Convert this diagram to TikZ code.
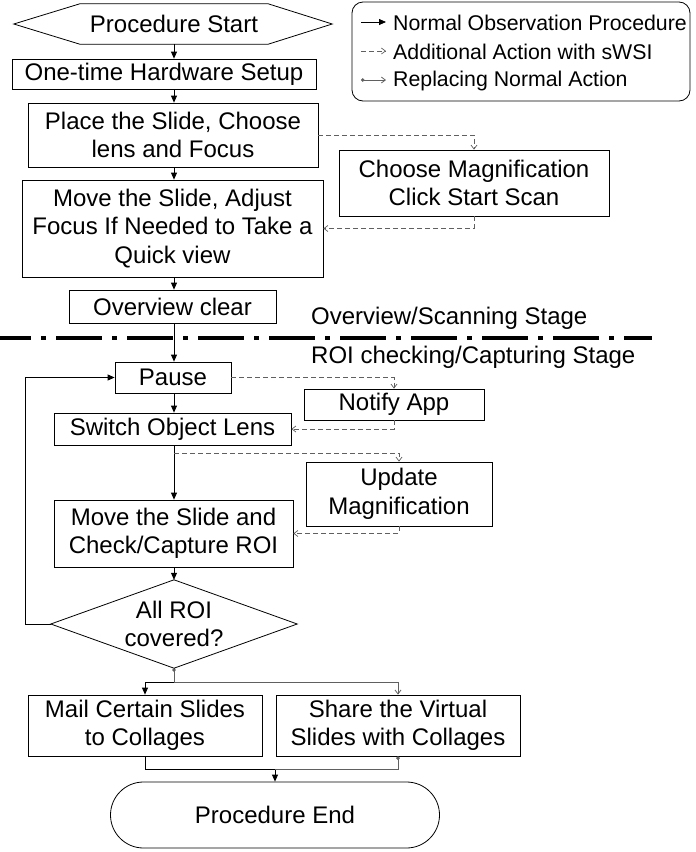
\documentclass[tikz,border=0pt]{standalone}
\usepackage{fontspec}
\setmainfont{Liberation Sans}
\usetikzlibrary{arrows.meta}
\definecolor{dgray}{HTML}{606060}
\begin{document}
\begin{tikzpicture}[x=1pt,y=-1pt,
  txt/.style={inner sep=0pt, align=center, font=\fontsize{24}{28.5}\selectfont},
  box/.style={txt, draw, line width=0.8pt},
  legtxt/.style={inner sep=0pt, anchor=west, font=\fontsize{21.3}{24}\selectfont},
  main/.style={line width=0.8pt, -{Triangle[length=7pt,width=6pt]}},
  addl/.style={draw=dgray, line width=0.7pt, dash pattern=on 5pt off 3pt, -{Straight Barb[length=4pt,width=6pt]}},
  repl/.style={draw=dgray, line width=0.8pt, {Circle[length=3.5pt]}-{Straight Barb[length=4pt,width=6pt]}},
  repljoin/.style={draw=dgray, line width=0.9pt},
  sep/.style={line width=4pt, dash pattern=on 46pt off 10pt on 5pt off 10pt, dash phase=15pt}
]
\useasboundingbox (0,0) rectangle (696,852);
\coordinate (axis) at (174,0);

% legend
\draw[line width=0.8pt, rounded corners=11pt] (352,2) rectangle (690,101);
\coordinate (l1a) at (361,22); \coordinate (l1b) at (386,22);
\coordinate (l2a) at (361,51); \coordinate (l2b) at (386,51);
\coordinate (l3a) at (361,80); \coordinate (l3b) at (386,80);
\draw[main] (l1a) -- (l1b);
\draw[addl] (l2a) -- (l2b);
\draw[repl] (l3a) -- (l3b);
\node[legtxt] (lg1) at (393,23) {Normal Observation Procedure};
\node[legtxt] (lg2) at (393,52) {Additional Action with sWSI};
\node[legtxt] (lg3) at (393,81) {Replacing Normal Action};

% left column
\node[txt, minimum width=188pt, minimum height=40pt] (start) at (174,24) {Procedure Start};
\draw[line width=0.8pt] (start.north west) -- (start.north east) -- ([xshift=64pt]start.east) -- (start.south east) -- (start.south west) -- ([xshift=-66pt]start.west) -- cycle;
\node[box, minimum width=304pt, minimum height=30pt] (hw) at (164,74) {One-time Hardware Setup};
\node[box, minimum width=290pt, minimum height=64pt] (place) at (173,135) {Place the Slide, Choose\\lens and Focus};
\node[box, minimum width=301pt, minimum height=97pt] (move1) at (172.5,228.5) {Move the Slide, Adjust\\Focus If Needed to Take a\\Quick view};
\node[box, minimum width=207pt, minimum height=33pt] (over) at (172.5,306.5) {Overview clear};
\node[box, minimum width=116pt, minimum height=31pt] (pause) at (173,377.5) {Pause};
\node[box, minimum width=237pt, minimum height=32pt] (switch) at (172.5,429) {Switch Object Lens};
\node[box, minimum width=239pt, minimum height=67pt] (move2) at (173.5,533.5) {Move the Slide and\\Check/Capture ROI};
\node[txt, minimum width=246pt, minimum height=88pt] (dia) at (174,624) {All ROI\\covered?};
\draw[line width=0.8pt] (dia.north) -- (dia.east) -- (dia.south) -- (dia.west) -- cycle;
\node[box, minimum width=234pt, minimum height=61pt] (mail) at (145,725.5) {Mail Certain Slides\\to Collages};
\node[box, minimum width=244pt, minimum height=61pt] (share) at (398,725.5) {Share the Virtual\\Slides with Collages};
\node[box, minimum width=329pt, minimum height=66pt, rounded corners=33pt] (end) at (275,815) {Procedure End};

% right column
\node[box, minimum width=270pt, minimum height=66pt] (choose) at (474,183) {Choose Magnification\\Click Start Scan};
\node[box, minimum width=180pt, minimum height=31pt] (notify) at (394,404.5) {Notify App};
\node[box, minimum width=186pt, minimum height=64pt] (update) at (399,494) {Update\\Magnification};

% stage separator
\coordinate (sepL) at (0,338); \coordinate (sepR) at (652,338);
\draw[sep] (sepL) -- (sepR);
\node[txt, anchor=west] (st1) at (311,318) {Overview/Scanning Stage};
\node[txt, anchor=west] (st2) at (311,357) {ROI checking/Capturing Stage};

% main flow
\draw[main] (start.south -| axis) -- (hw.north -| axis);
\draw[main] (hw.south -| axis) -- (place.north -| axis);
\draw[main] (place.south -| axis) -- (move1.north -| axis);
\draw[main] (move1.south -| axis) -- (over.north -| axis);
\draw[main] (over.south -| axis) -- (pause.north -| axis);
\draw[main] (pause.south -| axis) -- (switch.north -| axis);
\draw[main] (switch.south -| axis) -- (move2.north -| axis);
\draw[main] (move2.south -| axis) -- (dia.north);
\draw[main] (dia.west) -- ++(-25,0) |- (pause.west);
\draw[main] (dia.south) -- ++(0,14) -| (mail.north);
\draw[repl] (dia.south) -- ++(0,14) -| (share.north);
\draw[main] (mail.south) -- ++(0,13) -| (end.north);
\draw[repljoin, {Circle[length=3.5pt]}-] (share.south) -- ++(0,13) coordinate (sj) -- (sj -| end.north);

% additional actions
\draw[addl] (place.east) -| (choose.north);
\draw[addl] (choose.south) |- (move1.east);
\draw[addl] (pause.east) -| (notify.north);
\draw[addl] (notify.south) |- (switch.east);
\coordinate (br) at (174,453);
\draw[addl] (br) -| (update.north);
\draw[addl] (update.south) |- (move2.east);
\end{tikzpicture}
\end{document}
